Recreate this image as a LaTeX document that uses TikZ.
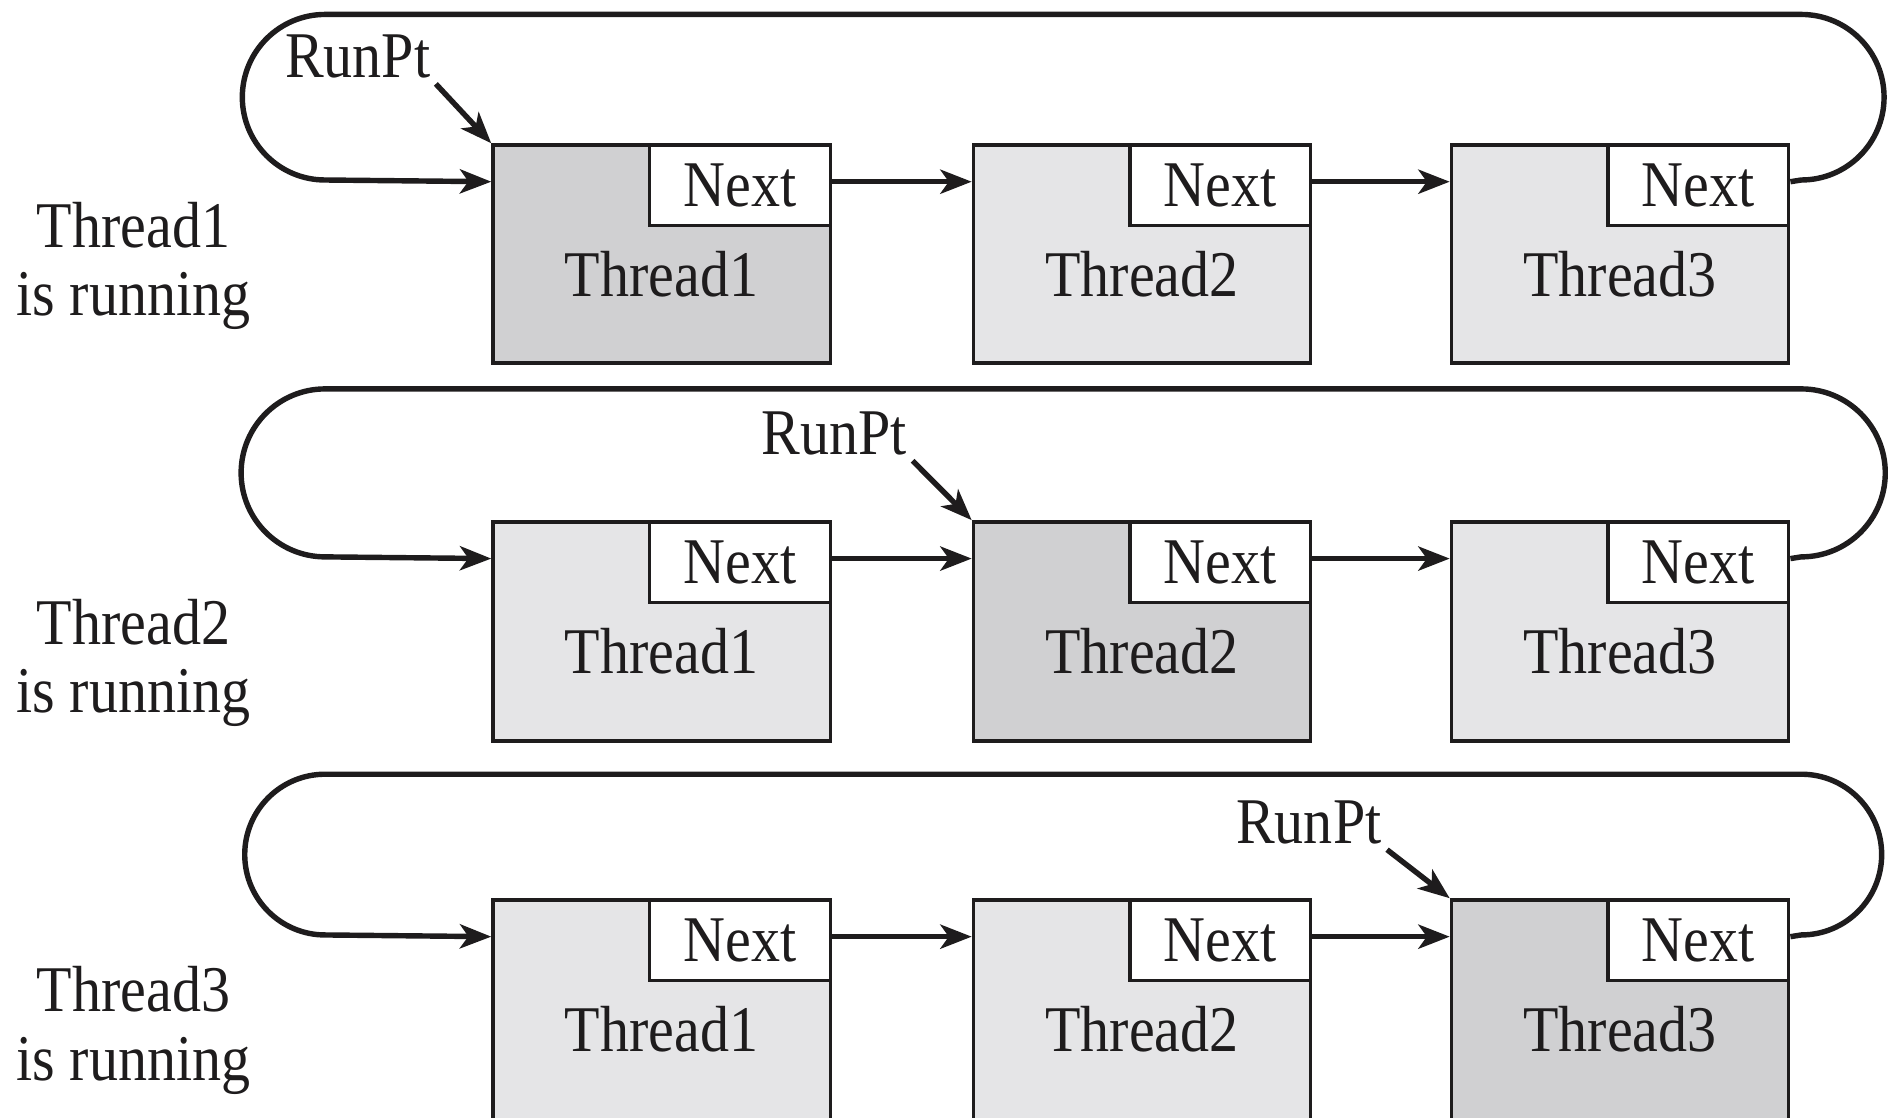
\documentclass[tikz,border=0pt]{standalone}
\usepackage{fontspec}
\setmainfont[FakeStretch=0.89]{Liberation Serif}
\usetikzlibrary{arrows.meta,calc}
\definecolor{runfill}{RGB}{208,208,210}
\definecolor{idlefill}{RGB}{229,229,231}
\definecolor{ink}{RGB}{30,28,29}
\tikzset{
  state0/.style={fill=idlefill},
  state1/.style={fill=runfill},
  box/.style={draw=ink, line width=0.028cm, rectangle, inner sep=0pt,
    minimum width=2.8cm, anchor=north west},
  nextbox/.style={draw=ink, line width=0.028cm, fill=white, rectangle, inner sep=0pt,
    minimum width=1.5cm, minimum height=0.67cm, anchor=north east},
  txt/.style={inner sep=0.04cm, text=ink, font=\fontsize{15.4pt}{16.2pt}\selectfont},
  conn/.style={draw=ink, line width=0.045cm, -{Stealth[length=0.26cm, width=0.2cm, inset=0.07cm]}},
}
\begin{document}
\begin{tikzpicture}[x=0.01cm, y=-0.01cm]
\useasboundingbox (0,0) rectangle (1568,928);
\clip (0,0) rectangle (1568,928);
\foreach \r/\top/\T/\bh/\ly in {1/119/12/181/221, 2/432/323/182/550.5, 3/746/643/190/856} {
  \foreach \c/\lft in {1/408, 2/807, 3/1204} {
    \pgfmathtruncatemacro\isrun{\r==\c}
    \node[box, state\isrun, minimum height=\bh*0.01cm] (b\r\c) at (\lft,\top) {};
    \node[nextbox, txt] (n\r\c) at (b\r\c.north east) {Next};
    \node[txt] (t\r\c) at ($(b\r\c.north)+(0,109)$) {Thread\c};
  }
  \draw[conn] ($(n\r1.east)+(0,-3)$) -- ($(b\r2.west |- n\r1.east)+(0,-3)$);
  \draw[conn] ($(n\r2.east)+(0,-3)$) -- ($(b\r3.west |- n\r2.east)+(0,-3)$);
  \pgfmathsetmacro\A{\top+30.5}
  \pgfmathsetmacro\R{(\A-\T)/2}
  \draw[conn] ($(n\r3.east)+(0,-3)$) -- (1496,\A) arc[start angle=90, end angle=-90, radius=\R]
     -- (270,\T) arc[start angle=270, end angle=90, radius=\R] -- ($(b\r1.west |- n\r1.east)+(0,-3)$);
  \node[txt, align=center] (lab\r) at (111,\ly) {Thread\r\\is running};
}
\foreach \r/\x/\y in {1/297/47, 2/693/360, 3/1087/683} {
  \node[txt] (rp\r) at (\x,\y) {RunPt};
  \draw[conn] (rp\r.south east) -- (b\r\r.north west);
}
\end{tikzpicture}
\end{document}
